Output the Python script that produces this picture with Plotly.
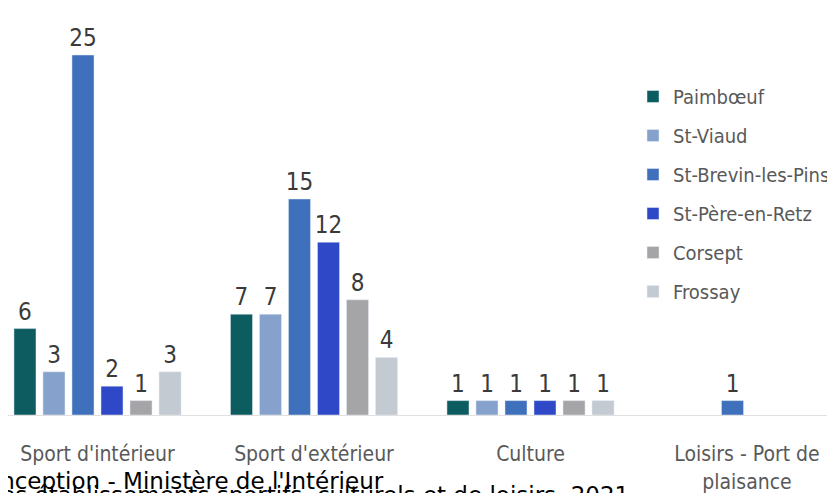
import plotly.graph_objects as go

categories = ["Sport d'intérieur", "Sport d'extérieur", "Culture", "Loisirs - Port de<br>plaisance"]
communes = ["Paimbœuf", "St-Viaud", "St-Brevin-les-Pins", "St-Père-en-Retz", "Corsept", "Frossay"]
paimboeuf = [6, 7, 1, None]
st_viaud = [3, 7, 1, None]
st_brevin = [25, 15, 1, 1]
st_pere = [2, 12, 1, None]
corsept = [1, 8, 1, None]
frossay = [3, 4, 1, None]
series = [paimboeuf, st_viaud, st_brevin, st_pere, corsept, frossay]
colors = ["#0d5c60", "#86a2cc", "#3e70bb", "#2e48c8", "#a5a5a8", "#c3cad1"]
source_lines = ["Conception - Ministère de l'Intérieur",
                "Source : Recensement des établissements sportifs, culturels et de loisirs, 2021"]

# page is 835x493; the html body adds an 8px margin, so the figure is 8px smaller
OFF = 8
W, H = 835 - OFF, 493 - OFF
BASE = 415            # page y of the baseline
T = 20 - OFF
B = H - (BASE - OFF)
plot_h = H - T - B

def py(px):
    return (BASE - px) / plot_h

def pxp(px):
    return (px - OFF) / W

cond = "Liberation Sans Narrow, DejaVu Sans Condensed, Arial Narrow, sans-serif"

fig = go.Figure()
for i, (name, vals, col) in enumerate(zip(communes, series, colors)):
    fig.add_trace(go.Bar(
        name=name, x=categories, y=vals, marker_color=col,
        text=[("" if v is None else str(v)) for v in vals],
        textposition="outside", cliponaxis=False, constraintext="none",
        textfont=dict(family=cond, size=24, color="#3a3a3a"),
        legendgroup=name,
    ))

px_per_cat = 216.5
x0 = -(97.5 - OFF) / px_per_cat
fig.update_layout(
    width=W, height=H,
    margin=dict(l=0, r=0, t=T, b=B),
    paper_bgcolor="white", plot_bgcolor="white",
    barmode="group", bargap=0.196, bargroupgap=0.24,
    uniformtext=dict(mode=False),
    xaxis=dict(range=[x0, x0 + W / px_per_cat], showline=True, linecolor="#e0e0e0", linewidth=1,
               ticks="outside", ticklen=20, tickcolor="rgba(0,0,0,0)",
               tickfont=dict(family=cond, size=21, color="#595959"), showgrid=False),
    yaxis=dict(range=[0, plot_h / 14.4], visible=False, showgrid=False),
    legend=dict(x=pxp(633), y=py(77), xanchor="left", yanchor="top",
                font=dict(family=cond, size=20, color="#595959"),
                tracegroupgap=10, bgcolor="rgba(0,0,0,0)"),
    showlegend=True,
)
fig.add_annotation(text=source_lines[0], xref="paper", yref="paper",
                   x=pxp(386), y=py(481), xanchor="right", yanchor="middle", showarrow=False,
                   font=dict(family="DejaVu Sans, Verdana, sans-serif", size=23, color="black"))
fig.add_annotation(text=source_lines[1], xref="paper", yref="paper",
                   x=pxp(631), y=py(495), xanchor="right", yanchor="middle", showarrow=False,
                   font=dict(family="DejaVu Sans, Verdana, sans-serif", size=23, color="black"))
fig.write_html("out.html")
